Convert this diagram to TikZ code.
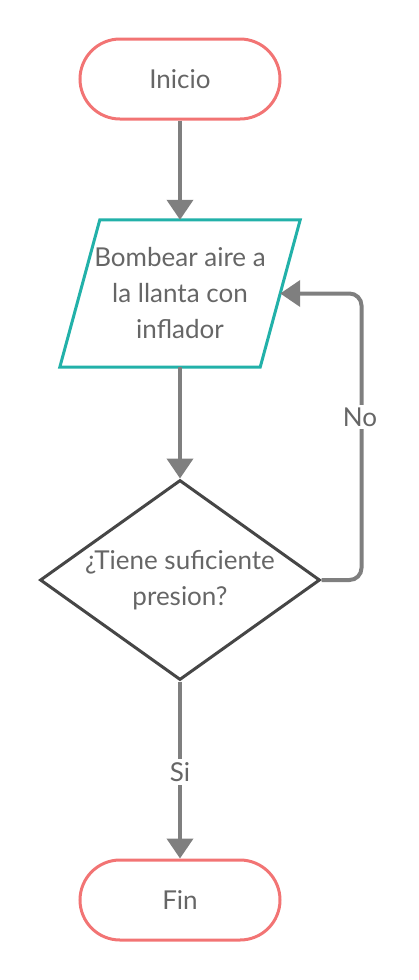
\documentclass[tikz,border=0pt]{standalone}
\usepackage{fontspec}
\setmainfont{Lato}
\usetikzlibrary{shapes.geometric,arrows.meta}

\definecolor{termred}{HTML}{F27474}
\definecolor{ioteal}{HTML}{22B1A9}
\definecolor{decdark}{HTML}{464646}
\definecolor{flowgray}{HTML}{7F7F7F}
\definecolor{txtgray}{HTML}{666666}

\begin{document}
\begin{tikzpicture}[x=1pt, y=-1pt,
  every node/.style={text=txtgray, font=\fontsize{26}{36}\selectfont},
  term/.style={draw=termred, line width=3pt, rounded corners=40pt, minimum width=200pt, minimum height=80pt, inner sep=0pt},
  io/.style={align=center, minimum width=200pt, minimum height=147pt, inner sep=0pt},
  ioline/.style={draw=ioteal, line width=3pt, line join=miter},
  dec/.style={draw=decdark, line width=3pt, diamond, minimum width=280pt, minimum height=200pt, inner sep=0pt},
  inside/.style={align=center},
  flow/.style={draw=flowgray, line width=4pt, -{Triangle[width=26pt, length=20pt]}},
  tag/.style={fill=white, inner sep=3pt}]

\useasboundingbox (0, 0) rectangle (418, 980);

\node[term] (1) at (180, 79) {Inicio};
\node[io] (2) at (180, 293.5) {Bombear aire a\\la llanta con\\inflador};
\draw[ioline] ([xshift=20pt]2.north west) -- ([xshift=20pt]2.north east)
  -- ([xshift=-20pt]2.south east) -- ([xshift=-20pt]2.south west) -- cycle;
\node[dec, label={[inside]center:¿Tiene suficiente\\presion?}] (3) at (180, 580) {};
\node[term] (4) at (180, 900) {Fin};

\draw[flow] (1.south) -- (2.north);
\draw[flow] (2.south) -- (3.north);
\draw[flow] (3.south) -- (4.north);
\draw[flow, rounded corners=12pt] (3.east) -- ++(40, 0) |- (2.east);

\node[tag] (no) at (360, 417) {No};
\node[tag] (si) at (180, 772) {Si};

\end{tikzpicture}
\end{document}
